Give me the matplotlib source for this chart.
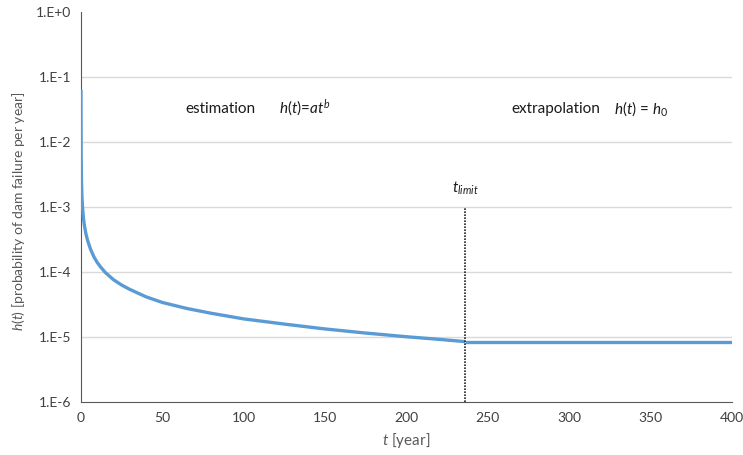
import numpy as np
import matplotlib
matplotlib.use('Agg')
import matplotlib.pyplot as plt

plt.rcParams['font.family'] = ['Lato', 'DejaVu Sans']
plt.rcParams['mathtext.fontset'] = 'custom'
plt.rcParams['mathtext.rm'] = 'Lato'
plt.rcParams['mathtext.it'] = 'Lato:italic'

# values
t_years = [0.01, 0.03, 0.1, 0.3, 0.6, 1, 1.5, 2, 3, 4, 5, 6, 8, 10, 12, 15,
           20, 25, 30, 40, 50, 65, 80, 100, 125, 150, 175, 200, 220, 236]
h_est = [6.4e-2, 2.0e-2, 6.7e-3, 2.5e-3, 1.4e-3, 9.5e-4, 6.8e-4, 5.4e-4,
         3.9e-4, 3.1e-4, 2.6e-4, 2.2e-4, 1.7e-4, 1.4e-4, 1.2e-4, 9.8e-5,
         7.6e-5, 6.3e-5, 5.4e-5, 4.15e-5, 3.4e-5, 2.75e-5, 2.32e-5, 1.9e-5,
         1.58e-5, 1.33e-5, 1.15e-5, 1.01e-5, 9.2e-6, 8.5e-6]
t_extra = [236, 400]
h_extra = [8.5e-6, 8.5e-6]
t_limit = 236

yticks = [1e0, 1e-1, 1e-2, 1e-3, 1e-4, 1e-5, 1e-6]
ytick_labels = ['1.E+0', '1.E-1', '1.E-2', '1.E-3', '1.E-4', '1.E-5', '1.E-6']
xticks = [0, 50, 100, 150, 200, 250, 300, 350, 400]

fig = plt.figure(figsize=(7.43, 4.55), dpi=100)
ax = fig.add_axes([0.109, 0.1165, 0.876, 0.857])

blue = '#5B9BD5'
ax.plot(t_years, h_est, color=blue, lw=2.4, solid_capstyle='butt',
        solid_joinstyle='round', zorder=3)
ax.plot(t_extra, h_extra, color=blue, lw=2.4, solid_capstyle='butt', zorder=3)
ax.plot([t_limit, t_limit], [1e-6, 1e-3], color='#222222', lw=1.2,
        linestyle=(0, (1, 0.8)), zorder=4)

ax.set_yscale('log')
ax.set_xlim(0, 400)
ax.set_ylim(1e-6, 1e0)
ax.set_yticks(yticks)
ax.set_yticklabels(ytick_labels)
ax.yaxis.set_minor_locator(matplotlib.ticker.NullLocator())
ax.set_xticks(xticks)
ax.tick_params(length=0, labelsize=10, colors='#404040', pad=7)

for y in yticks[1:-1]:
    ax.axhline(y, color='#D9D9D9', lw=1.0, zorder=1)

for s in ['top', 'right']:
    ax.spines[s].set_visible(False)
ax.spines['left'].set_color('#595959')
ax.spines['bottom'].set_color('#595959')

ax.set_xlabel('$t$ [year]', fontsize=11, color='#595959', labelpad=5)
fig.text(0.025, 0.535, '$h(t)$ [probability of dam failure per year]',
         rotation=90, fontsize=10, color='#595959', ha='center', va='center')

y_note = 3.26e-2
ax.text(64, y_note, 'estimation', fontsize=11, color='#1a1a1a', va='center')
ax.text(121.5, y_note, '$h(t)$=$at^b$', fontsize=11, color='#1a1a1a',
        va='center')
ax.text(264.5, y_note, 'extrapolation', fontsize=11, color='#1a1a1a',
        va='center')
ax.text(327.5, y_note, '$h(t)$ = $h_0$', fontsize=11, color='#1a1a1a',
        va='center')
ax.text(t_limit, 1.45e-3, '$t_{limit}$', fontsize=11, color='#1a1a1a',
        ha='center', va='bottom')

fig.savefig('out.png', dpi=100)
